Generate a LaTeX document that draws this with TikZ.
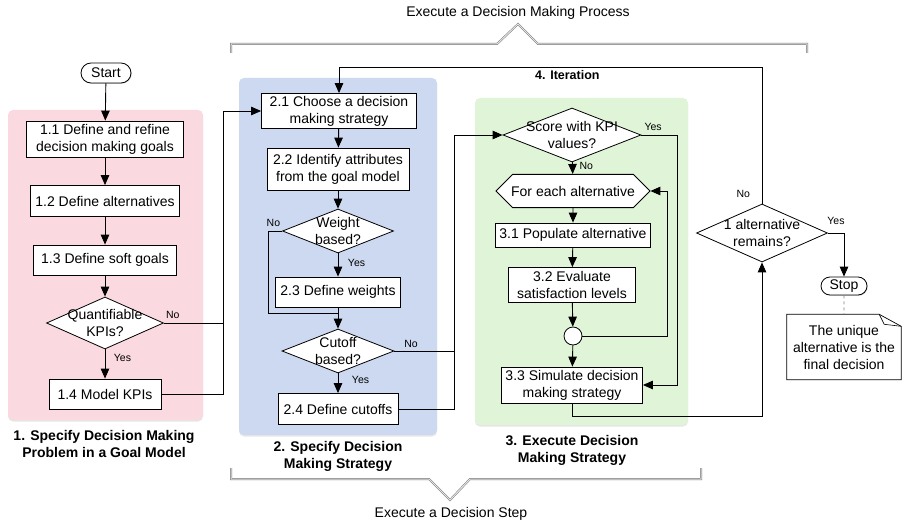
\documentclass[tikz,border=0pt]{standalone}
\usepackage{fontspec}
\setmainfont{Liberation Sans}
\usepackage{xcolor}
\usetikzlibrary{shapes.geometric, shapes.misc, arrows.meta, positioning, shadows}
\definecolor{stepred}{RGB}{250,218,224}
\definecolor{stepblue}{RGB}{204,217,240}
\definecolor{stepgreen}{RGB}{224,245,215}
\definecolor{bracegray}{RGB}{120,120,120}

\begin{document}
\begin{tikzpicture}[
    x=1pt, y=-1pt,
    every node/.style={font=\fontsize{14}{17}\selectfont},
    panel/.style={rounded corners=5pt, drop shadow={shadow xshift=0pt, shadow yshift=-1.5pt, opacity=0.2}},
    box/.style 2 args={rectangle, draw, fill=white, line width=0.8pt, align=center, inner sep=1pt, minimum width=#1, minimum height=#2},
    decision/.style n args={3}{diamond, draw, fill=white, line width=0.8pt, inner sep=0pt, minimum width=#1, minimum height=#2, label={[align=center, inner sep=0pt]center:#3}},
    term/.style={rounded rectangle, draw, fill=white, line width=0.8pt, inner sep=1pt, drop shadow={shadow xshift=0.8pt, shadow yshift=-0.8pt, opacity=0.3}},
    loopbox/.style={chamfered rectangle, chamfered rectangle xsep=14pt, chamfered rectangle ysep=11.5pt, draw, fill=white, line width=0.8pt, inner sep=0pt, minimum width=154, minimum height=23},
    merge/.style={circle, draw, fill=white, line width=0.8pt, inner sep=0pt, minimum size=18},
    notebox/.style={rectangle, fill=white, align=center, inner sep=0pt, minimum width=114, minimum height=65},
    caption/.style={align=center, font=\fontsize{14}{17}\selectfont\bfseries},
    lbl/.style={font=\fontsize{10.5}{12}\selectfont, inner sep=1.5pt},
    arrow/.style={-{Triangle[length=10pt, width=8.5pt]}, line width=0.9pt},
    line/.style={line width=0.9pt},
    brace/.style={draw=bracegray, double=white!80!gray, double distance=1pt, line width=0.5pt}
]
\useasboundingbox (0,0) rectangle (902,524);

% Panels
\path[panel, fill=stepred] (8,110) rectangle (203,420);
\path[panel, fill=stepblue] (239,78) rectangle (437,435);
\path[panel, fill=stepgreen] (475,98) rectangle (688,425);

% Braces
\node (proc) at (518,13) {Execute a Decision Making Process};
\draw[brace] (231,53) -- (231,44) -- (497,44) -- (518,24) -- (538,44) -- (807,44) -- (807,53);
\node (dstep) at (451,514) {Execute a Decision Step};
\draw[brace] (231,468) -- (231,479) -- (429,479) -- (450,500) -- (470,479) -- (701,479) -- (701,468);

% 1. Goal model
\node[term, minimum width=52, minimum height=20] (start) at (106,73) {Start};
\node[box={157}{36}] (s11) at (105,139) {1.1 Define and refine\\decision making goals};
\node[box={149}{31}] (s12) at (105,201) {1.2 Define alternatives};
\node[box={143}{30}] (s13) at (105,260) {1.3 Define soft goals};
\node[decision={117}{52}{Quantifiable\\KPIs?}] (qk) at (105,323) {};
\node[box={112}{30}] (s14) at (105,394) {1.4 Model KPIs};
\node[caption] (c1) at (104,444) {1. Specify Decision Making\\Problem in a Goal Model};

% 2. Strategy
\node[box={155}{35}] (s21) at (339,111) {2.1 Choose a decision\\making strategy};
\node[box={142}{42}] (s22) at (338,169) {2.2 Identify attributes\\from the goal model};
\node[decision={111}{44}{Weight\\based?}] (wb) at (338,231) {};
\node[box={125}{30}] (s23) at (338,292) {2.3 Define weights};
\node[decision={112}{44}{Cutoff\\based?}] (cb) at (338,351) {};
\node[box={120}{31}] (s24) at (338,409) {2.4 Define cutoffs};
\node[caption] (c2) at (338,456) {2. Specify Decision\\Making Strategy};

% 3. Execution
\node[decision={138}{54}{Score with KPI\\values?}] (sc) at (572,135) {};
\node[loopbox] (fe) at (573,191) {For each alternative};
\node[box={155}{24}] (s31) at (573,235) {3.1 Populate alternative};
\node[box={127}{35}] (s32) at (572,285) {3.2 Evaluate\\satisfaction levels};
\node[merge] (mg) at (573,336) {};
\node[box={141}{36}] (s33) at (572,385) {3.3 Simulate decision\\making strategy};
\node[caption] (c3) at (572,450) {3. Execute Decision\\Making Strategy};

% Iteration / end
\node[decision={131}{58}{1 alternative\\remains?}] (alt) at (762,233) {};
\node[term, minimum width=48, minimum height=18] (stop) at (844,286) {Stop};
\node[notebox] (nt) at (844,347) {The unique\\alternative is the\\final decision};
\draw[line, line width=0.7pt] (nt.north west) -- ([xshift=-22pt]nt.north east) -- ([yshift=-12pt]nt.north east) -- (nt.south east) -- (nt.south west) -- cycle;
\draw[line width=0.6pt] ([xshift=-22pt]nt.north east) -- ([xshift=-17pt, yshift=-10pt]nt.north east) -- ([yshift=-12pt]nt.north east);

% Junctions
\coordinate (j1) at (223,111);
\coordinate (j2) at (268,313);
\coordinate (j3) at (454,135);
\coordinate (j4) at (677,135);
\coordinate (j5) at (667,336);
\coordinate (j6) at (762,416);
\coordinate (j7) at (762,67);

% Connectors
\draw[arrow] (start) -- (s11);
\draw[arrow] (s11) -- (s12);
\draw[arrow] (s12) -- (s13);
\draw[arrow] (s13) -- (qk);
\draw[arrow] (qk) -- node[lbl, right, pos=0.3, xshift=7] {Yes} (s14);
\draw[line] (qk.east) -- node[lbl, above, pos=0.15, yshift=2] {No} (qk.east -| j1);
\draw[arrow] (s14.east) -| (j1) -- (s21.west);

\draw[arrow] (s21) -- (s22);
\draw[arrow] (s22) -- (wb);
\draw[arrow] (wb) -- node[lbl, right, pos=0.4, xshift=8] {Yes} (s23);
\draw[line] (wb.west) -| node[lbl, above left, pos=0, yshift=2] {No} (j2) -- (j2 -| s23.south);
\draw[arrow] (s23) -- (cb);
\draw[arrow] (cb) -- node[lbl, right, pos=0.35, xshift=12] {Yes} (s24);
\draw[line] (cb.east) -- node[lbl, above, pos=0.28, yshift=1] {No} (cb.east -| j3);
\draw[arrow] (s24.east) -| (j3) -- (sc.west);

\draw[arrow] (sc) -- node[lbl, right, pos=0.35, xshift=5] {No} (fe);
\draw[arrow] (sc.east) -- node[lbl, above, pos=0.33, yshift=2] {Yes} (j4) |- (s33.east);
\draw[arrow] (fe) -- (s31);
\draw[arrow] (s31) -- (s32);
\draw[arrow] (s32) -- (mg);
\draw[arrow] (mg) -- (s33);
\draw[arrow] (mg.east) -- (j5) |- (fe.east);

\draw[arrow] (s33.south) |- (j6) -- (alt.south);
\draw[arrow] (alt.north) -- node[lbl, left, pos=0.07, xshift=-10] {No} (j7) -| node[below, pos=0.23, font=\fontsize{12.5}{14}\selectfont\bfseries] {4. Iteration} (s21.north);
\draw[arrow] (alt.east) -| node[lbl, above, pos=0.25, yshift=6] {Yes} (stop.north);
\draw[dashed, gray, line width=0.7pt] (stop) -- (nt);

\end{tikzpicture}
\end{document}
